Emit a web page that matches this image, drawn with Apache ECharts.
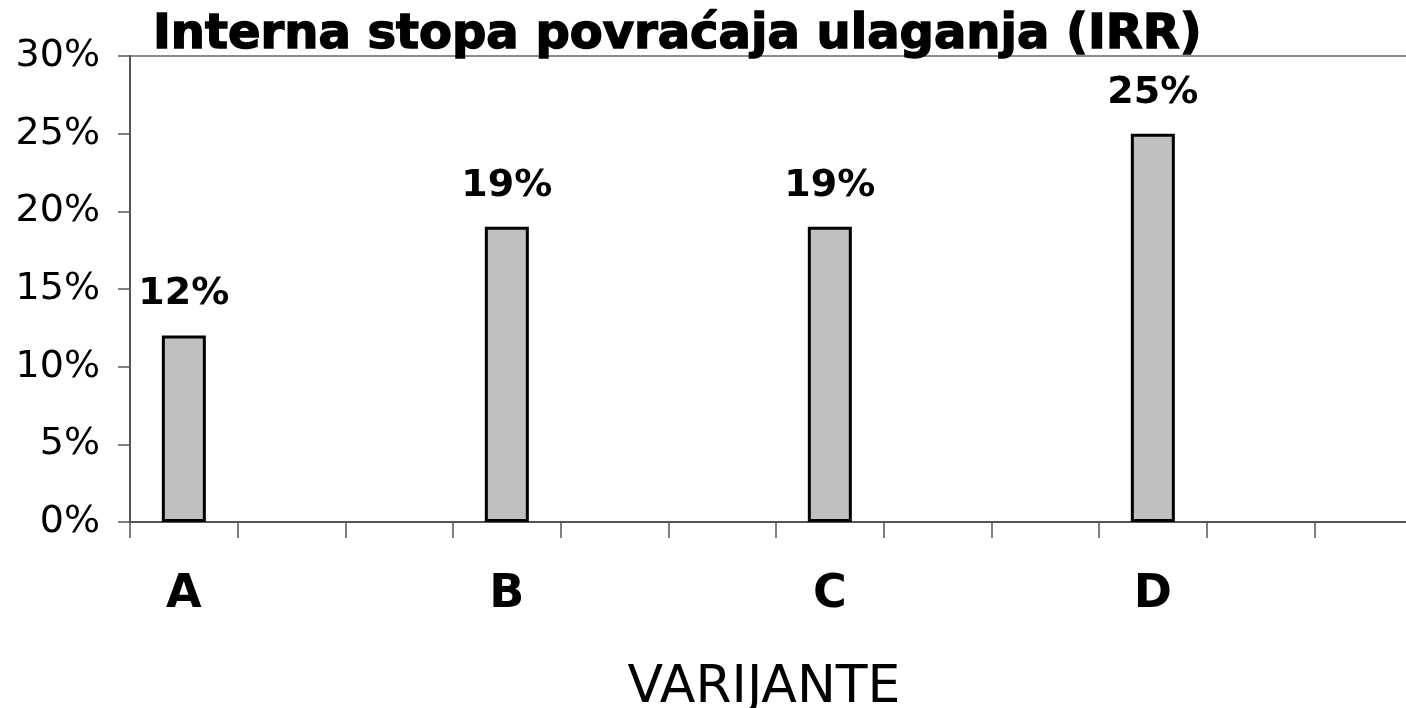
<!DOCTYPE html>
<html>
<head>
<meta charset="utf-8">
<script src="https://cdn.jsdelivr.net/npm/echarts@6/dist/echarts.min.js"></script>
<style>
  html, body { margin: 0; padding: 0; background: #fff; }
  #main { width: 1406px; height: 708px; }
</style>
</head>
<body>
<div id="main"></div>
<script>
var variants = ['A', 'B', 'C', 'D'];
var irr = [12, 19, 19, 25];
var yTicks = [0, 5, 10, 15, 20, 25, 30];

// each variant takes three slots on the axis, the bar sits in the first one
var slots = [];
var slotValues = [];
for (var i = 0; i < variants.length; i++) {
    slots.push(variants[i], '', '');
    slotValues.push(irr[i], null, null);
}

var chart = echarts.init(document.getElementById('main'));

option = {
    backgroundColor: '#fff',
    animation: false,
    title: {
        text: 'Interna stopa povraćaja ulaganja (IRR)',
        left: 153,
        top: 12,
        padding: 0,
        textStyle: {
            fontFamily: 'DejaVu Sans',
            fontWeight: 'bold',
            fontSize: 48,
            color: '#000',
            textBorderColor: '#000',
            textBorderWidth: 1.5
        }
    },
    grid: {
        left: 130,
        top: 56,
        width: 1292,
        height: 466,
        outerBoundsMode: 'none',
        show: true,
        borderColor: '#8c8c8c',
        borderWidth: 2,
        containLabel: false
    },
    xAxis: {
        type: 'category',
        data: slots,
        name: 'VARIJANTE',
        nameLocation: 'middle',
        nameGap: 140,
        nameTextStyle: {
            fontFamily: 'DejaVu Sans',
            fontSize: 52,
            color: '#000',
            padding: [0, 24, 0, 0]
        },
        axisLine: { lineStyle: { color: '#555', width: 2 } },
        axisTick: { show: true, interval: 0, length: 16, lineStyle: { color: '#555', width: 1.5 } },
        axisLabel: {
            interval: 0,
            margin: 50,
            fontFamily: 'DejaVu Sans',
            fontWeight: 'bold',
            fontSize: 46,
            color: '#000'
        }
    },
    yAxis: {
        type: 'value',
        min: yTicks[0],
        max: yTicks[yTicks.length - 1],
        interval: 5,
        splitLine: { show: false },
        axisLine: { show: true, lineStyle: { color: '#555', width: 2 } },
        axisTick: { show: true, length: 12, lineStyle: { color: '#555', width: 1.5 } },
        axisLabel: {
            margin: 30,
            formatter: '{value}%',
            fontFamily: 'DejaVu Sans',
            fontSize: 38,
            color: '#000'
        }
    },
    series: [{
        type: 'bar',
        data: slotValues,
        barWidth: 44,
        itemStyle: {
            color: '#c0c0c0',
            borderColor: '#000',
            borderWidth: 3
        },
        label: {
            show: true,
            position: 'top',
            distance: 22,
            formatter: '{c}%',
            fontFamily: 'DejaVu Sans',
            fontWeight: 'bold',
            fontSize: 38,
            color: '#000'
        }
    }]
};
chart.setOption(option);
</script>
</body>
</html>
